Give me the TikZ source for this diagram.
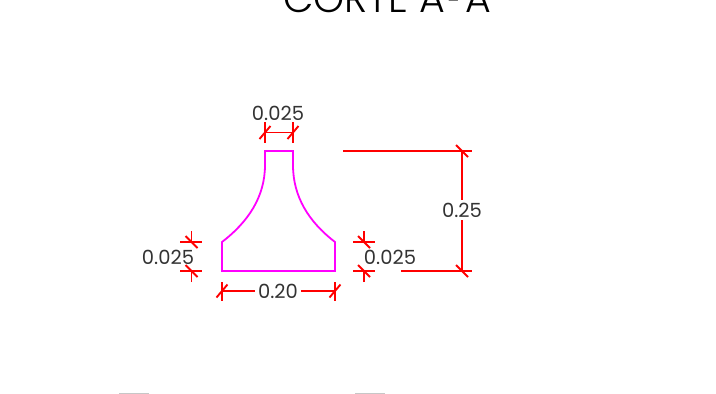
\documentclass[tikz,border=0pt]{standalone}
\usepackage{fontspec}
\setmainfont{Poppins}
\newfontfamily\titlefont[UprightFont=* Light]{Poppins}
\usepackage{tikz}

\definecolor{profilecolor}{RGB}{255,0,255}
\definecolor{dimcolor}{RGB}{255,0,0}

\tikzset{
  profile/.style={draw=profilecolor,line width=1.8pt},
  dimline/.style={draw=dimcolor,line width=1.9pt},
  dimtext/.style={text=black!80,font=\fontsize{19.5}{21}\selectfont,inner sep=1pt,outer sep=2pt},
}

\begin{document}
\begin{tikzpicture}[x=1pt,y=-1pt]
\useasboundingbox (0,0) rectangle (716,394);
\clip (0,0) rectangle (716,394);
\node[font=\titlefont\fontsize{39.5}{41}\selectfont,text=black,anchor=base,inner sep=0pt] (title) at (387,12) {CORTE A\kern4pt\raisebox{-2pt}{\scalebox{0.6}[1]{-}}\kern4pt A};
% section outline
\coordinate (A) at (265,151);
\coordinate (B) at (293,151);
\coordinate (C) at (335,242);
\coordinate (D) at (335,271);
\coordinate (E) at (222,271);
\coordinate (F) at (222,242);
\draw[profile] (A) -- (B) -- (293,165) .. controls (293,197) and (309,222) .. (C) -- (D) -- (E) -- (F) .. controls (248,222) and (265,197) .. (265,165) -- cycle;
% top dimension
\coordinate (T1) at (265,132.5);
\coordinate (T2) at (293,132.5);
\node[dimtext] (lblT) at (278,113) {0.025};
\draw[dimline] (T1) -- (T2);
\draw[dimline] (265,122) -- (265,143);
\draw[dimline] (293,122) -- (293,143);
% bottom dimension
\coordinate (W1) at (222,291);
\coordinate (W2) at (335,291);
\node[dimtext] (lblW) at (278,291) {0.20};
\draw[dimline] (W1) -- (lblW);
\draw[dimline] (W2) -- (lblW);
\draw[dimline] (222,282) -- (222,301);
\draw[dimline] (335,282) -- (335,301);
% left dimension
\coordinate (L1) at (191.5,242);
\coordinate (L2) at (191.5,271);
\draw[dimline] (180,242) -- (202,242);
\draw[dimline] (180,271) -- (202,271);
\draw[dimline] (191.5,231) -- (L1);
\draw[dimline] (191.5,282) -- (L2);
% right dimension
\coordinate (R1) at (364,242);
\coordinate (R2) at (364,271);
\draw[dimline] (353,242) -- (375,242);
\draw[dimline] (353,271) -- (375,271);
\draw[dimline] (364,231) -- (R1);
\draw[dimline] (364,282) -- (R2);
% height dimension
\coordinate (H1) at (462,151);
\coordinate (H2) at (462,271);
\node[dimtext] (lblH) at (462,210) {0.25};
\draw[dimline] (343,151) -- (472,151);
\draw[dimline] (401,271) -- (472,271);
\draw[dimline] (H1) -- (lblH);
\draw[dimline] (H2) -- (lblH);
% ticks
\foreach \p in {T1,T2,W1,W2}
  \draw[dimline] (\p) ++(-5.5,6.5) -- ++(11,-13);
\foreach \p in {L1,L2,R1,R2,H1,H2}
  \draw[dimline] (\p) ++(-6,-6) -- ++(12,12);
% these two lie over the dimension lines
\node[dimtext] (lblL) at (168,257) {0.025};
\node[dimtext] (lblR) at (390,257) {0.025};
% cut off marks at the lower edge
\fill[black!22] (119,392.5) rectangle (149,394);
\fill[black!22] (355,392.5) rectangle (385,394);
\end{tikzpicture}
\end{document}
